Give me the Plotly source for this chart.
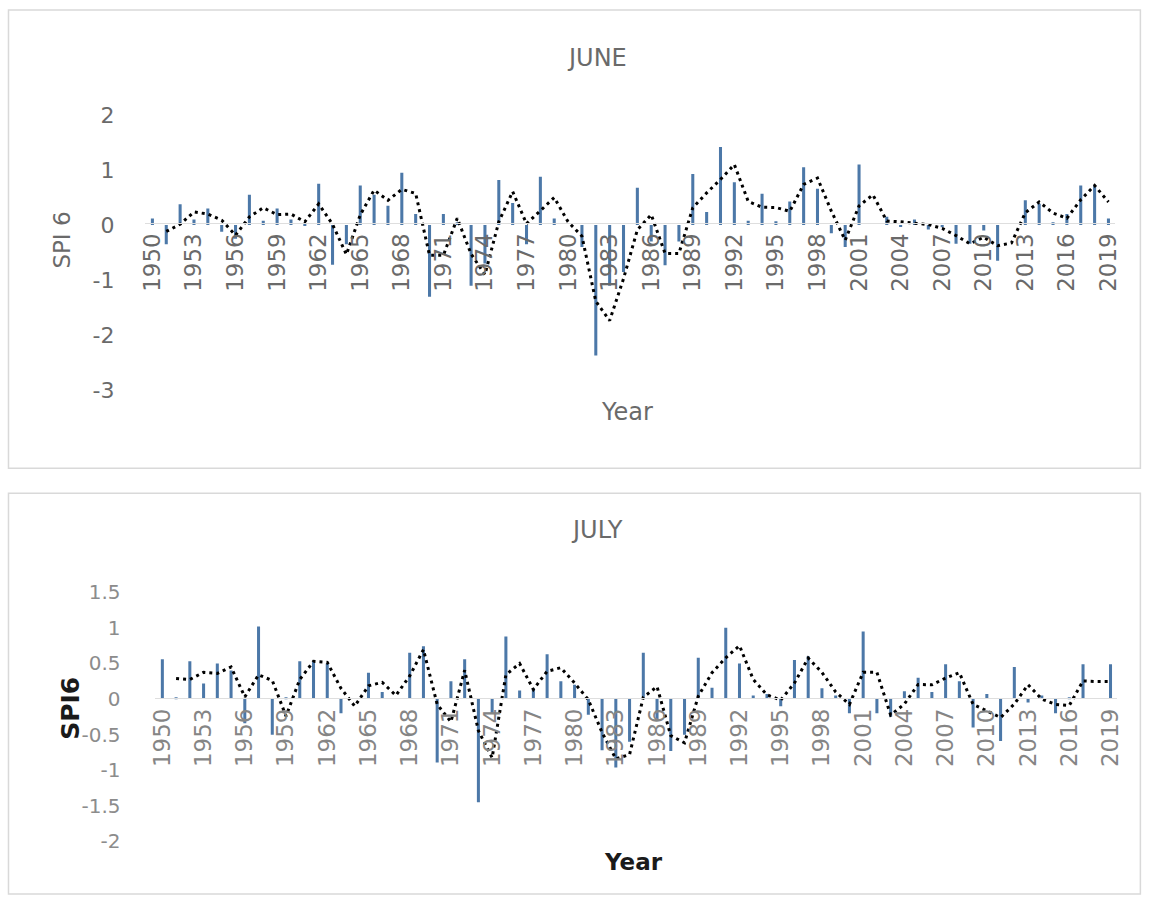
import pandas as pd
import plotly.graph_objects as go

# SPI-6 values per year, 1950-2019
years = list(range(1950, 2020))
june_spi6 = [
    0.12, -0.35, 0.38, 0.10, 0.30, -0.12, -0.25, 0.55, 0.08, 0.30,
    0.10, 0.02, 0.75, -0.72, -0.35, 0.72, 0.55, 0.35, 0.95, 0.20,
    -1.30, 0.20, 0.05, -1.10, -0.70, 0.82, 0.40, -0.35, 0.88, 0.12,
    0.00, -0.40, -2.37, -1.10, -0.85, 0.68, -0.30, -0.73, -0.30, 0.93,
    0.24, 1.42, 0.78, 0.08, 0.57, 0.07, 0.43, 1.05, 0.66, -0.15,
    -0.40, 1.10, 0.00, 0.15, -0.03, 0.10, -0.08, -0.04, -0.34, -0.34,
    -0.10, -0.65, 0.00, 0.45, 0.39, 0.05, 0.20, 0.72, 0.72, 0.12,
]
july_spi6 = [
    0.56, 0.02, 0.53, 0.22, 0.50, 0.40, -0.34, 1.02, -0.50, 0.02,
    0.53, 0.53, 0.50, -0.20, 0.00, 0.37, 0.10, 0.00, 0.65, 0.74,
    -0.89, 0.25, 0.56, -1.45, -0.20, 0.88, 0.12, 0.15, 0.63, 0.25,
    0.20, -0.22, -0.72, -0.96, -0.60, 0.65, -0.30, -0.73, -0.50, 0.58,
    0.16, 1.00, 0.50, 0.05, 0.07, -0.10, 0.55, 0.60, 0.15, 0.05,
    -0.20, 0.95, -0.20, -0.25, 0.11, 0.30, 0.10, 0.49, 0.25, -0.40,
    0.07, -0.59, 0.45, -0.05, 0.05, -0.20, 0.02, 0.49, 0.00, 0.49,
]
tick_years = list(range(1950, 2020, 3))
june_ticks = [-3, -2, -1, 0, 1, 2]
june_ticktext = ["-3", "-2", "-1", "0", "1", "2"]
july_ticks = [-2, -1.5, -1, -0.5, 0, 0.5, 1, 1.5]
july_ticktext = ["-2", "-1.5", "-1", "-0.5", "0", "0.5", "1", "1.5"]

# figure size and the page-to-screen placement used to lay out the panels
FW, FH = 1150, 908
SX, AX = 0.9888, 6.5
SY, AY = 0.972, 12.0

BAR = "#4C78A8"
FONT = "DejaVu Sans, Open Sans, sans-serif"
GRAY = "#6a6a6a"


def fx(p):
    return ((p - AX) / SX) / FW


def fy(p):
    return max(0.0, 1 - ((p - AY) / SY) / FH)


# 2-period moving-average trendlines
june_trend = pd.Series(june_spi6).rolling(2).mean()
july_trend = pd.Series(july_spi6).rolling(2).mean()

fig = go.Figure()
fig.add_trace(go.Bar(x=years, y=june_spi6, width=0.22, marker_color=BAR,
                     marker_line_width=0, xaxis="x", yaxis="y", showlegend=False))
fig.add_trace(go.Scatter(x=years, y=june_trend, mode="lines", xaxis="x", yaxis="y",
                         line=dict(color="black", width=3, dash="3px,4px"),
                         showlegend=False))
fig.add_trace(go.Bar(x=years, y=july_spi6, width=0.22, marker_color=BAR,
                     marker_line_width=0, xaxis="x2", yaxis="y2", showlegend=False))
fig.add_trace(go.Scatter(x=years, y=july_trend, mode="lines", xaxis="x2", yaxis="y2",
                         line=dict(color="black", width=3, dash="3px,4px"),
                         showlegend=False))

common_x = dict(range=[1949.5, 2019.5], tickmode="array", tickvals=tick_years,
                tickangle=-90, showgrid=False, zeroline=False, showline=True,
                linecolor="#dedede", linewidth=1, ticks="", anchor="free")


def label(text, x, y, size, color=GRAY, angle=0):
    return dict(text=text, xref="paper", yref="paper", x=fx(x), y=fy(y),
                xanchor="center", yanchor="middle", textangle=angle,
                showarrow=False, font=dict(size=size, color=color))


fig.update_layout(
    width=FW, height=FH,
    margin=dict(l=0, r=0, t=0, b=0),
    paper_bgcolor="white", plot_bgcolor="white",
    font=dict(family=FONT),
    xaxis=dict(common_x, domain=[fx(145), fx(1115)], position=fy(223),
               tickfont=dict(size=23, color=GRAY)),
    yaxis=dict(domain=[fy(390), fy(115)], range=[-3, 2], tickmode="array",
               tickvals=june_ticks, ticktext=june_ticktext, showgrid=False,
               zeroline=False, showline=False, ticklabelstandoff=30,
               tickfont=dict(size=22, color=GRAY)),
    xaxis2=dict(common_x, domain=[fx(155), fx(1117)], position=fy(698),
                tickfont=dict(size=23, color="#858585")),
    yaxis2=dict(domain=[fy(841), fy(592)], range=[-2, 1.5], tickmode="array",
                tickvals=july_ticks, ticktext=july_ticktext, showgrid=False,
                zeroline=False, showline=False, ticklabelstandoff=24,
                tickfont=dict(size=20, color="#8c8c8c")),
    shapes=[
        dict(type="rect", xref="paper", yref="paper", x0=fx(8), x1=fx(1140),
             y0=fy(468), y1=fy(10), line=dict(color="#d9d9d9", width=1.5)),
        dict(type="rect", xref="paper", yref="paper", x0=fx(8), x1=fx(1140),
             y0=fy(905) + 0.001, y1=fy(493), line=dict(color="#d9d9d9", width=1.5)),
    ],
    annotations=[
        label("JUNE", 597, 58, 24),
        label("SPI 6", 62, 240, 23, angle=-90),
        label("Year", 627, 412, 24),
        label("JULY", 597, 530, 24),
        label("<b>SPI6</b>", 70, 708, 25, color="#1a1a1a", angle=-90),
        label("<b>Year</b>", 633, 862, 23, color="#1a1a1a"),
    ],
)

fig.write_html("out.html")
